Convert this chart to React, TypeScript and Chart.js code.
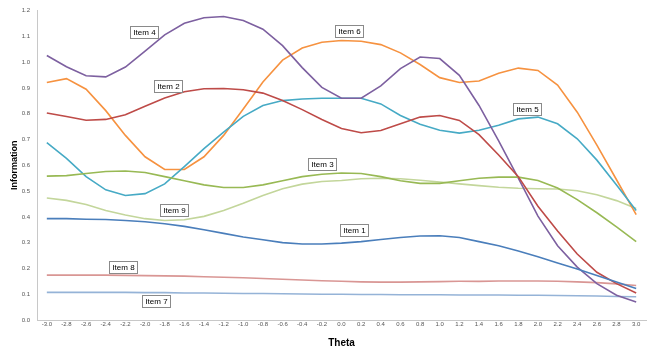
import { useEffect, useRef } from 'react';
import { Chart, registerables } from 'chart.js';

Chart.register(...registerables);

const FONT = '"Liberation Sans", Arial, Helvetica, sans-serif';

const thetaLabels = [
  '-3.0', '-2.8', '-2.6', '-2.4', '-2.2', '-2.0', '-1.8', '-1.6', '-1.4', '-1.2', '-1.0',
  '-0.8', '-0.6', '-0.4', '-0.2', '0.0', '0.2', '0.4', '0.6', '0.8', '1.0',
  '1.2', '1.4', '1.6', '1.8', '2.0', '2.2', '2.4', '2.6', '2.8', '3.0',
];

const item1 = [0.393, 0.393, 0.391, 0.390, 0.386, 0.381, 0.373, 0.363, 0.350, 0.336, 0.322, 0.311, 0.300, 0.295, 0.295, 0.298, 0.304, 0.312, 0.320, 0.326, 0.327, 0.320, 0.304, 0.288, 0.268, 0.245, 0.221, 0.198, 0.173, 0.147, 0.122];
const item2 = [0.803, 0.789, 0.775, 0.778, 0.796, 0.829, 0.861, 0.885, 0.897, 0.898, 0.893, 0.880, 0.851, 0.816, 0.778, 0.743, 0.726, 0.735, 0.761, 0.787, 0.793, 0.774, 0.719, 0.640, 0.556, 0.441, 0.345, 0.256, 0.185, 0.141, 0.105];
const item3 = [0.558, 0.560, 0.568, 0.576, 0.578, 0.572, 0.556, 0.540, 0.524, 0.514, 0.514, 0.524, 0.540, 0.556, 0.565, 0.570, 0.568, 0.556, 0.540, 0.530, 0.530, 0.540, 0.550, 0.554, 0.554, 0.541, 0.512, 0.467, 0.416, 0.361, 0.304];
const item4 = [1.026, 0.982, 0.947, 0.943, 0.981, 1.043, 1.106, 1.151, 1.172, 1.177, 1.162, 1.128, 1.064, 0.979, 0.902, 0.860, 0.860, 0.908, 0.975, 1.020, 1.014, 0.949, 0.832, 0.695, 0.550, 0.403, 0.288, 0.205, 0.141, 0.096, 0.070];
const item5 = [0.688, 0.627, 0.556, 0.505, 0.483, 0.490, 0.528, 0.595, 0.665, 0.729, 0.790, 0.832, 0.851, 0.857, 0.860, 0.860, 0.860, 0.838, 0.793, 0.759, 0.736, 0.725, 0.736, 0.755, 0.780, 0.787, 0.761, 0.703, 0.620, 0.524, 0.425];
const item6 = [0.921, 0.936, 0.895, 0.812, 0.716, 0.633, 0.584, 0.584, 0.633, 0.716, 0.818, 0.923, 1.008, 1.055, 1.077, 1.084, 1.081, 1.068, 1.036, 0.991, 0.940, 0.921, 0.927, 0.957, 0.977, 0.968, 0.911, 0.806, 0.678, 0.544, 0.409];
const item7 = [0.107, 0.107, 0.107, 0.107, 0.107, 0.106, 0.106, 0.105, 0.105, 0.104, 0.103, 0.103, 0.102, 0.101, 0.100, 0.100, 0.099, 0.099, 0.098, 0.098, 0.098, 0.097, 0.097, 0.097, 0.096, 0.096, 0.095, 0.094, 0.093, 0.091, 0.090];
const item8 = [0.174, 0.174, 0.174, 0.174, 0.173, 0.172, 0.171, 0.170, 0.168, 0.166, 0.164, 0.161, 0.158, 0.155, 0.152, 0.150, 0.148, 0.147, 0.147, 0.148, 0.149, 0.150, 0.150, 0.151, 0.151, 0.151, 0.150, 0.148, 0.145, 0.140, 0.134];
const item9 = [0.473, 0.464, 0.448, 0.425, 0.407, 0.393, 0.386, 0.389, 0.402, 0.425, 0.453, 0.483, 0.509, 0.527, 0.537, 0.541, 0.548, 0.550, 0.548, 0.542, 0.535, 0.528, 0.521, 0.515, 0.511, 0.509, 0.508, 0.501, 0.486, 0.463, 0.432];

const itemNames = ['Item 1', 'Item 2', 'Item 3', 'Item 4', 'Item 5', 'Item 6', 'Item 7', 'Item 8', 'Item 9'];
const itemSeries = [item1, item2, item3, item4, item5, item6, item7, item8, item9];
const itemColors = ['#4a7ebb', '#be4b48', '#98b954', '#7d60a0', '#46aac5', '#f69240', '#95b3d7', '#d99694', '#c3d69b'];

// Annotation label anchors in data coordinates (theta, information)
const labelTheta = [0.13, -1.77, -0.2, -2.01, 1.89, 0.08, -1.89, -2.22, -1.71];
const labelInfo = [0.348, 0.909, 0.604, 1.117, 0.818, 1.12, 0.072, 0.206, 0.426];

const labelPlugin = {
  id: 'itemLabels',
  afterDatasetsDraw(chart: any) {
    const { ctx, scales } = chart;
    const x = scales.x;
    const y = scales.y;
    ctx.save();
    ctx.font = `8px ${FONT}`;
    ctx.textAlign = 'center';
    ctx.textBaseline = 'middle';
    itemNames.forEach((name, i) => {
      const idx = (labelTheta[i] + 3) / 0.2;
      const px = x.getPixelForValue(idx);
      const py = y.getPixelForValue(labelInfo[i]);
      const w = Math.round(ctx.measureText(name).width + 6);
      const h = 12;
      const bx = Math.round(px - w / 2) + 0.5;
      const by = Math.round(py - h / 2) + 0.5;
      ctx.fillStyle = '#ffffff';
      ctx.fillRect(bx, by, w, h);
      ctx.strokeStyle = '#8a8a8a';
      ctx.lineWidth = 1;
      ctx.strokeRect(bx, by, w, h);
      ctx.fillStyle = '#000000';
      ctx.fillText(name, bx + w / 2, by + h / 2 + 0.5);
    });
    ctx.restore();
  },
};

export default function App() {
  const ref = useRef<HTMLCanvasElement | null>(null);

  useEffect(() => {
    if (!ref.current) return;
    Chart.defaults.font.family = FONT;
    const chart = new Chart(ref.current, {
      type: 'line',
      data: {
        labels: thetaLabels,
        datasets: itemSeries.map((s, i) => ({
          label: itemNames[i],
          data: s,
          borderColor: itemColors[i],
          backgroundColor: itemColors[i],
          borderWidth: 1.6,
          pointRadius: 0,
          tension: 0,
          fill: false,
        })),
      },
      options: {
        animation: false,
        responsive: true,
        maintainAspectRatio: false,
        layout: { padding: { top: 7, right: 7, left: 0, bottom: 0 } },
        plugins: { legend: { display: false }, tooltip: { enabled: false } },
        scales: {
          x: {
            type: 'category',
            offset: true,
            grid: { display: false, drawTicks: false },
            border: { display: true, color: '#c8c8c8', width: 1 },
            ticks: {
              autoSkip: false,
              maxRotation: 0,
              minRotation: 0,
              padding: 1,
              color: '#555555',
              font: { size: 6, family: FONT },
            },
            title: {
              display: true,
              text: 'Theta',
              color: '#000000',
              font: { size: 10, weight: 'bold', family: FONT },
              padding: { top: 0, bottom: 7 },
            },
            afterFit: (s: any) => {
              s.height = 36;
            },
          },
          y: {
            min: 0,
            max: 1.2,
            grid: { display: false, drawTicks: false },
            border: { display: true, color: '#c8c8c8', width: 1 },
            ticks: {
              stepSize: 0.1,
              padding: 7,
              color: '#555555',
              font: { size: 6, family: FONT },
              callback: (v: any) => Number(v).toFixed(1),
            },
            title: {
              display: true,
              text: 'Information',
              color: '#000000',
              font: { size: 9, weight: 'bold', family: FONT },
              padding: { top: 9, bottom: 0 },
            },
            afterFit: (s: any) => {
              s.width = 37;
            },
          },
        },
      },
      plugins: [labelPlugin],
    } as any);
    return () => chart.destroy();
  }, []);

  return (
    <div style={{ position: 'fixed', left: 0, top: 0, width: 653, height: 356 }}>
      <canvas ref={ref} />
    </div>
  );
}
